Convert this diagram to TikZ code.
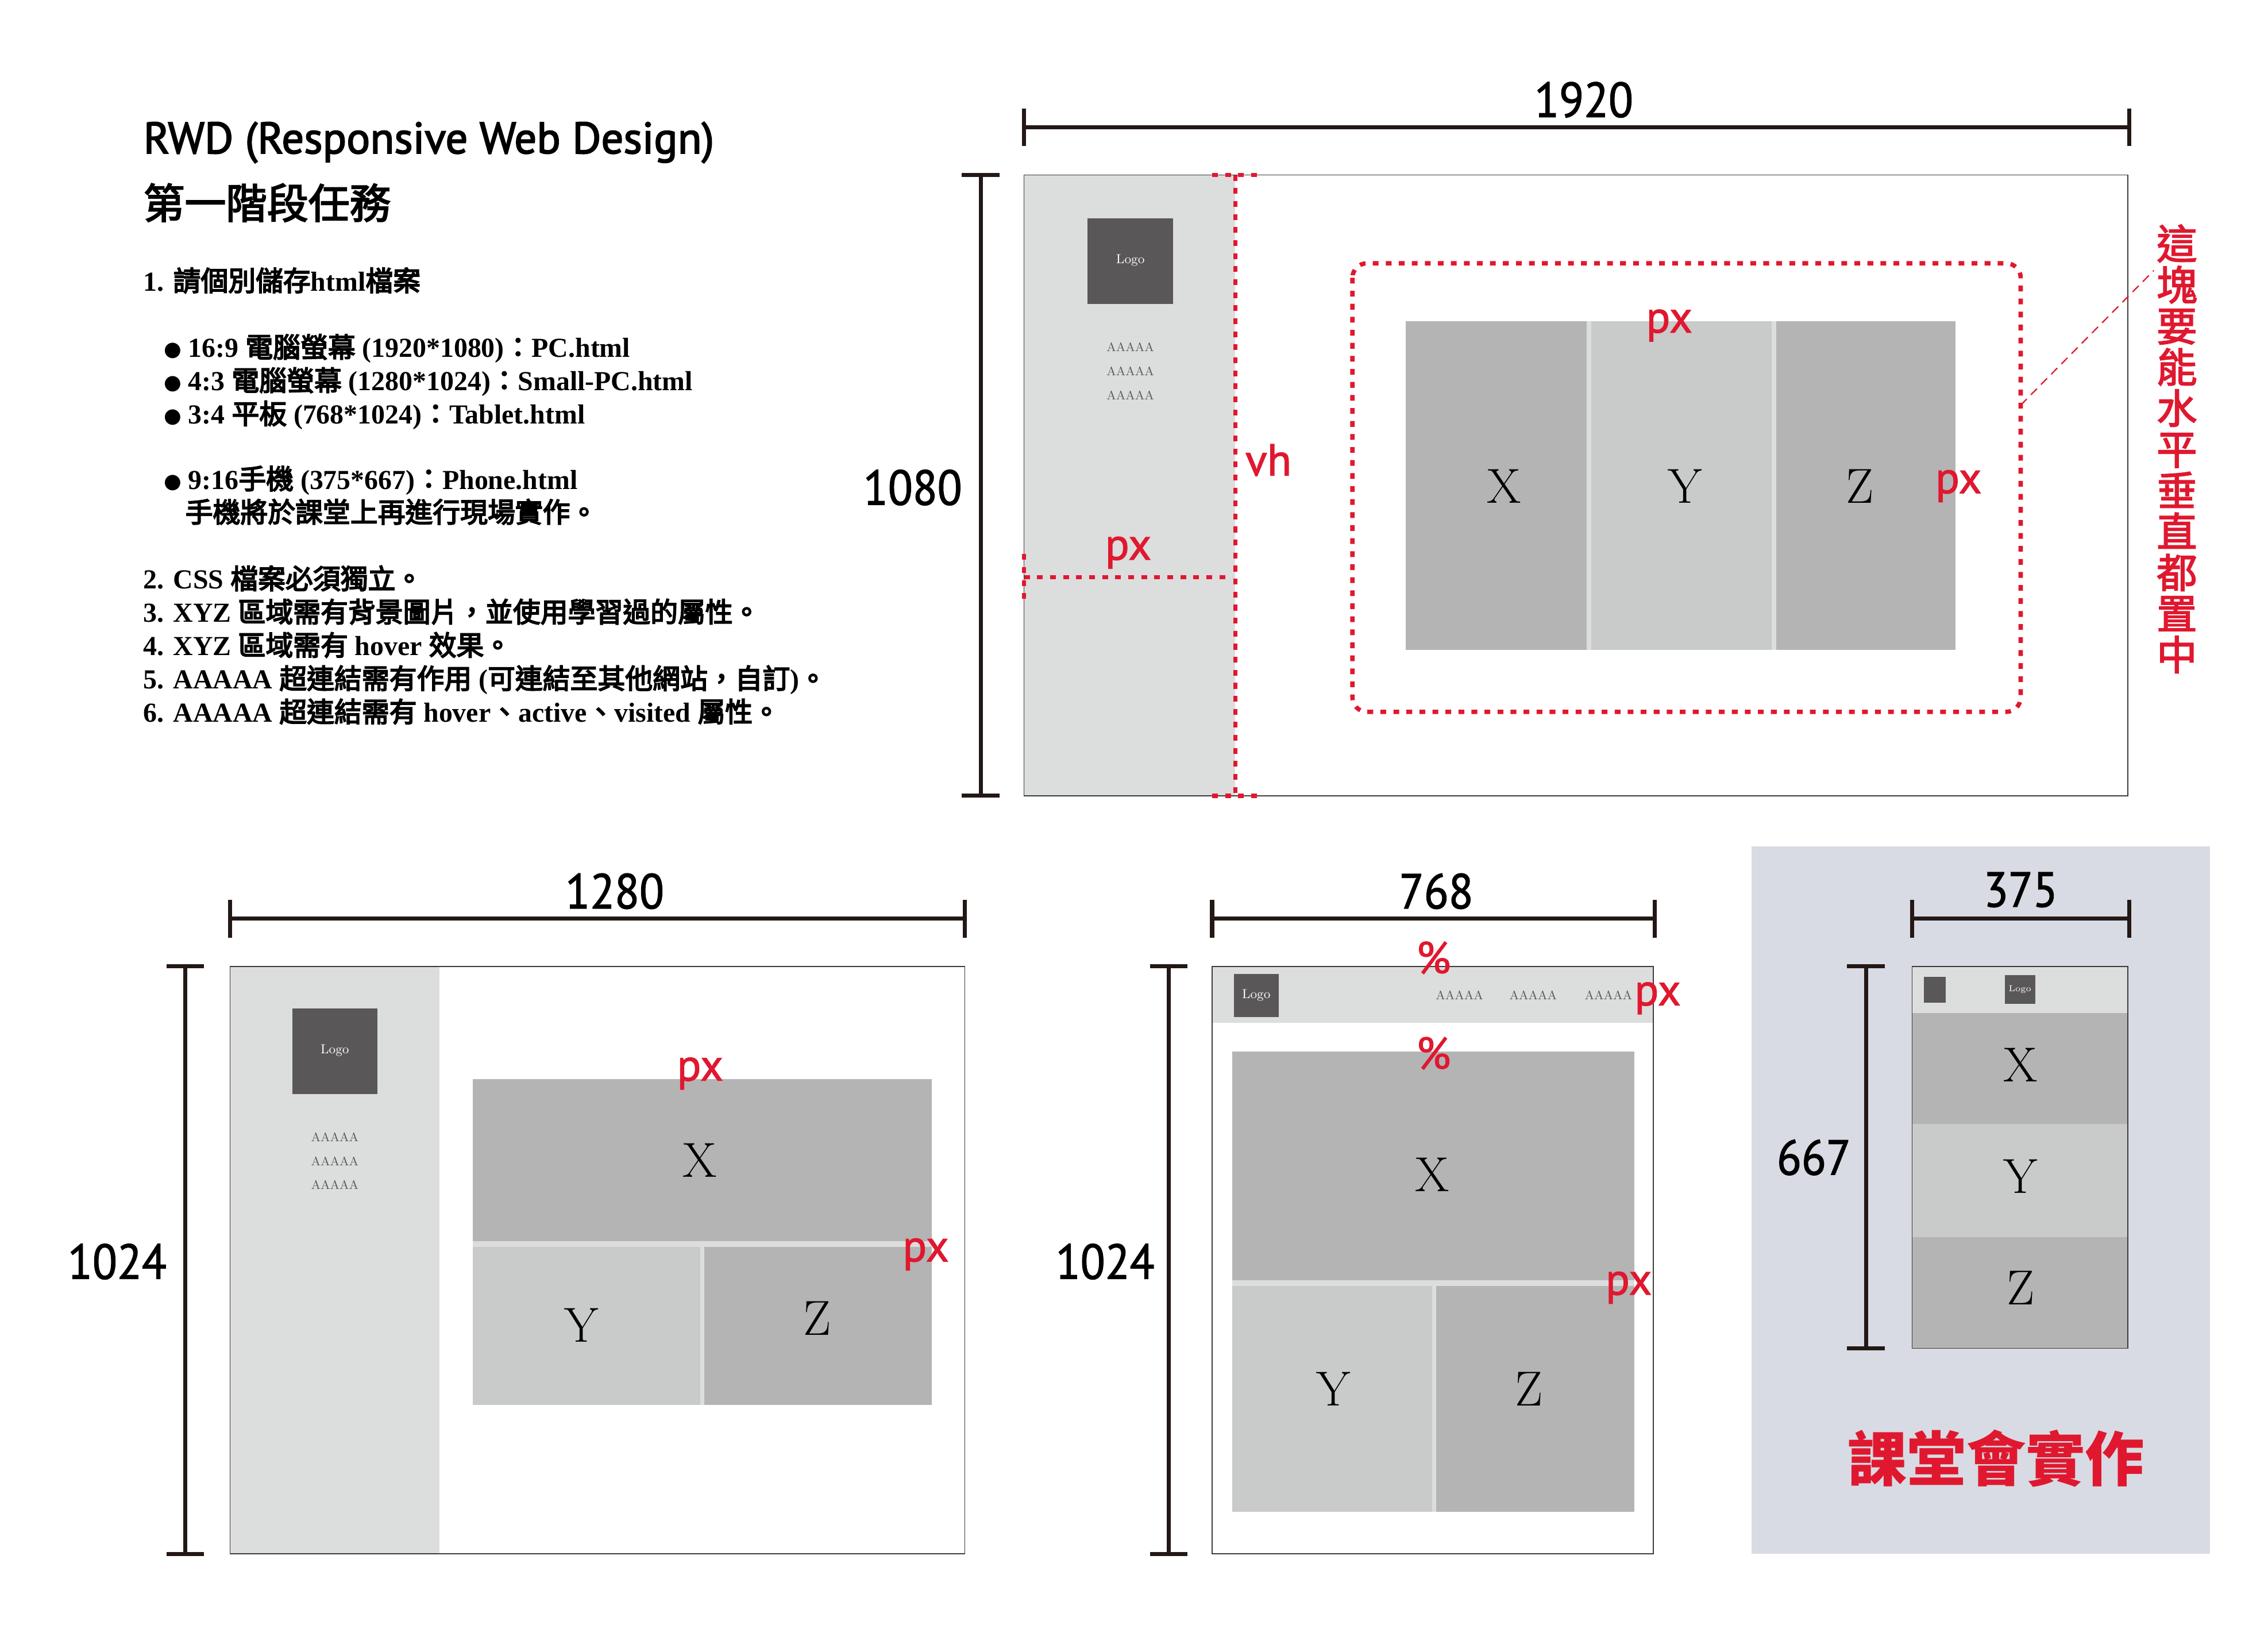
\documentclass[tikz,border=0pt]{standalone}
\usepackage{fontspec}
\newfontfamily\cjk{Noto Sans CJK TC}
\newfontfamily\cjkm{Noto Sans CJK TC}[FakeBold=3]
\newfontfamily\cjkl{Noto Sans CJK TC}[FakeBold=4]
\newfontfamily\cjkv{Noto Sans CJK TC}[FakeBold=2.5]
\newfontfamily\lb{Liberation Serif}
\newfontfamily\msans{PT Sans}[FakeBold=2.5]
\newfontfamily\lsans{PT Sans}[FakeBold=1.5]
\newfontfamily\numf{PT Sans}[FakeBold=1.5, FakeStretch=0.92]
\newfontfamily\djv{DejaVu Sans}
\newcommand\C[1]{{\cjkl\mdseries #1}}
\newcommand\blt{\raisebox{0.8pt}{\djv\fontsize{14}{14}\selectfont ●}}

\definecolor{dk}{HTML}{231815}
\definecolor{rwdred}{HTML}{E0182F}
\definecolor{sidegray}{HTML}{DCDDDD}
\definecolor{logogray}{HTML}{595757}
\definecolor{blkdark}{HTML}{B4B4B5}
\definecolor{blklight}{HTML}{C9CACA}
\definecolor{phonebg}{HTML}{D8DBE3}
\definecolor{framegray}{HTML}{3E3A39}

\tikzset{
  dimline/.style={draw=dk, line width=2.8pt},
  frame/.style={draw=framegray, line width=0.6pt, fill=white},
  reddot/.style={draw=rwdred, line width=3pt, dash pattern=on 4pt off 5pt},
  dimnum/.style={font=\numf\fontsize{34}{34}\selectfont, text=black, inner sep=0pt},
  redlbl/.style={font=\lsans\fontsize{31}{31}\selectfont, text=rwdred, inner sep=0pt},
  xyz/.style={font=\rmfamily\fontsize{34}{34}\selectfont, text=black, inner sep=0pt},
  logotxt/.style={font=\rmfamily\fontsize{9}{9}\selectfont, text=white, inner sep=0pt},
  atxt/.style={font=\rmfamily\fontsize{8.5}{8.5}\selectfont, text=logogray, inner sep=0pt},
  listtxt/.style={font=\lb\bfseries\fontsize{19}{23}\selectfont, text=black, inner sep=0pt, anchor=base west},
}

\begin{document}
\begin{tikzpicture}[x=1pt, y=-1pt]
\useasboundingbox[fill=white] (0,0) rectangle (1568,1139);

% ---------- heading and task list ----------
\node[font=\msans\fontsize{30.5}{30.5}\selectfont, inner sep=0pt, anchor=base west] (title) at (99,106) {RWD (Responsive Web Design)};
\node[font=\cjkm\fontsize{28.5}{28.5}\selectfont, inner sep=0pt, anchor=base west] (stage) at (99,151) {第一階段任務};

\node[listtxt] (t1) at (99,201) {1. \C{請個別儲存}html\C{檔案}};
\node[listtxt] (b1) at (113,247) {\blt\ 16:9 \C{電腦螢幕} (1920*1080)\C{：}PC.html};
\node[listtxt] (b2) at (113,270) {\blt\ 4:3 \C{電腦螢幕} (1280*1024)\C{：}Small-PC.html};
\node[listtxt] (b3) at (113,293) {\blt\ 3:4 \C{平板} (768*1024)\C{：}Tablet.html};
\node[listtxt] (b4) at (113,338) {\blt\ 9:16\C{手機} (375*667)\C{：}Phone.html};
\node[listtxt] (b4b) at (128,361) {\C{手機將於課堂上再進行現場實作。}};
\node[listtxt] (t2) at (99,407) {2. CSS \C{檔案必須獨立。}};
\node[listtxt] (t3) at (99,430) {3. XYZ \C{區域需有背景圖片，並使用學習過的屬性。}};
\node[listtxt] (t4) at (99,453) {4. XYZ \C{區域需有} hover \C{效果。}};
\node[listtxt] (t5) at (99,476) {5. AAAAA \C{超連結需有作用} (\C{可連結至其他網站，自訂})\C{。}};
\node[listtxt] (t6) at (99,499) {6. AAAAA \C{超連結需有} hover\C{、}active\C{、}visited \C{屬性。}};

% ---------- 1920 x 1080 desktop ----------
\draw[dimline] (708,75) -- (708,101) (708,88) -- (1472,88) (1472,75) -- (1472,101);
\node[dimnum] (w1920) at (1095,69) {1920};
\draw[dimline] (665,121) -- (691,121) (678,121) -- (678,550) (665,550) -- (691,550);
\node[dimnum] (h1080) at (631,337) {1080};

\draw[frame] (708,121) rectangle (1471,550);
\fill[sidegray] (708.3,121.3) rectangle (854,549.7);
\fill[logogray] (752,151) rectangle (811,210);
\node[logotxt] (pclogo) at (781.5,180) {Logo};
\node[atxt] (pca1) at (781.5,240) {AAAAA};
\node[atxt] (pca2) at (781.5,256.5) {AAAAA};
\node[atxt] (pca3) at (781.5,273) {AAAAA};

\fill[sidegray] (972,222) rectangle (1352,449);
\fill[blkdark] (972,222) rectangle (1097,449);
\fill[blklight] (1100,222) rectangle (1225,449);
\fill[blkdark] (1228,222) rectangle (1352,449);
\node[xyz] (pcx) at (1040,336) {X};
\node[xyz] (pcy) at (1165,336) {Y};
\node[xyz] (pcz) at (1286,336) {Z};

\draw[reddot] (854,121) -- (854,550);
\draw[reddot] (838,121) -- (871,121) (838,550) -- (871,550);
\draw[reddot] (708,399) -- (852,399);
\draw[reddot] (708,383) -- (708,416);
\draw[reddot, rounded corners=10pt] (935,182) rectangle (1397,492);

\node[redlbl] (pcvh) at (877,318) {vh};
\node[redlbl] (pcpx1) at (780,382) {px};
\node[redlbl] (pcpx2) at (1154,225) {px};
\node[redlbl] (pcpx3) at (1354,336) {px};

\node[font=\cjkv\fontsize{28}{28.4}\selectfont, text=rwdred, align=center, anchor=north, inner sep=0pt] (center note) at (1505,155)
  {這\\塊\\要\\能\\水\\平\\垂\\直\\都\\置\\中};
\coordinate (lead) at (1397,280);
\coordinate (leadend) at (1489,187);
\draw[rwdred, line width=0.9pt, dash pattern=on 6pt off 4pt] (lead) -- (leadend);

% ---------- 1280 x 1024 desktop ----------
\draw[dimline] (159,622) -- (159,648) (159,635) -- (667,635) (667,622) -- (667,648);
\node[dimnum] (w1280) at (425,616) {1280};
\draw[dimline] (115,668) -- (141,668) (128,668) -- (128,1074) (115,1074) -- (141,1074);
\node[dimnum] (h1024a) at (81,872) {1024};

\draw[frame] (159,668) rectangle (667,1074);
\fill[sidegray] (159.3,668.3) rectangle (304,1073.7);
\fill[logogray] (202,697) rectangle (261,756);
\node[logotxt] (smlogo) at (231.5,726) {Logo};
\node[atxt] (sma1) at (231.5,786) {AAAAA};
\node[atxt] (sma2) at (231.5,802.5) {AAAAA};
\node[atxt] (sma3) at (231.5,819) {AAAAA};

\fill[sidegray] (327,746) rectangle (644,971);
\fill[blkdark] (327,746) rectangle (644,858);
\fill[blklight] (327,862) rectangle (484,971);
\fill[blkdark] (487,862) rectangle (644,971);
\node[xyz] (smx) at (484,802) {X};
\node[xyz] (smy) at (402,916) {Y};
\node[xyz] (smz) at (565,911) {Z};
\node[redlbl] (smpx1) at (484,742) {px};
\node[redlbl] (smpx2) at (640,867) {px};

% ---------- 768 x 1024 tablet ----------
\draw[dimline] (838,622) -- (838,648) (838,635) -- (1144,635) (1144,622) -- (1144,648);
\node[dimnum] (w768) at (993,616) {768};
\draw[dimline] (795,668) -- (821,668) (808,668) -- (808,1074) (795,1074) -- (821,1074);
\node[dimnum] (h1024b) at (764,872) {1024};

\draw[frame] (838,668) rectangle (1143,1074);
\fill[sidegray] (838.3,668.3) rectangle (1142.7,707);
\fill[logogray] (853,673) rectangle (884,703);
\node[logotxt] (tblogo) at (868.5,688) {Logo};
\node[atxt] (tba1) at (1009,688) {AAAAA};
\node[atxt] (tba2) at (1060,688) {AAAAA};
\node[atxt] (tba3) at (1112,688) {AAAAA};

\fill[sidegray] (852,727) rectangle (1130,1045);
\fill[blkdark] (852,727) rectangle (1130,885);
\fill[blklight] (852,889) rectangle (990,1045);
\fill[blkdark] (993,889) rectangle (1130,1045);
\node[xyz] (tbx) at (990,812) {X};
\node[xyz] (tby) at (922,960) {Y};
\node[xyz] (tbz) at (1057,960) {Z};
\node[redlbl] (tbpc1) at (991,662) {\%};
\node[redlbl] (tbpc2) at (991,728) {\%};
\node[redlbl] (tbpx1) at (1146,690) {px};
\node[redlbl] (tbpx2) at (1126,890) {px};

% ---------- 375 x 667 phone ----------
\fill[phonebg] (1211,585) rectangle (1528,1074);
\draw[dimline] (1322,622) -- (1322,648) (1322,635) -- (1472,635) (1472,622) -- (1472,648);
\node[dimnum] (w375) at (1397,615) {375};
\draw[dimline] (1277,668) -- (1303,668) (1290,668) -- (1290,932) (1277,932) -- (1303,932);
\node[dimnum] (h667) at (1254,800) {667};

\draw[frame] (1322,668) rectangle (1471,932);
\fill[sidegray] (1322.3,668.3) rectangle (1470.7,700);
\fill[logogray] (1330,675) rectangle (1345,693);
\fill[logogray] (1386,674) rectangle (1407,694);
\node[font=\rmfamily\fontsize{6}{6}\selectfont, text=white, inner sep=0pt] (phlogo) at (1396.5,684) {Logo};
\fill[blkdark] (1322.3,700) rectangle (1470.7,777);
\fill[blklight] (1322.3,777) rectangle (1470.7,855);
\fill[blkdark] (1322.3,855) rectangle (1470.7,931.7);
\node[xyz] (phx) at (1397,736) {X};
\node[xyz] (phy) at (1397,813) {Y};
\node[xyz] (phz) at (1397,890) {Z};

\node[font=\cjk\bfseries\fontsize{41}{41}\selectfont, text=rwdred, inner sep=0pt] (class work) at (1380,1008) {課堂會實作};
\end{tikzpicture}
\end{document}
